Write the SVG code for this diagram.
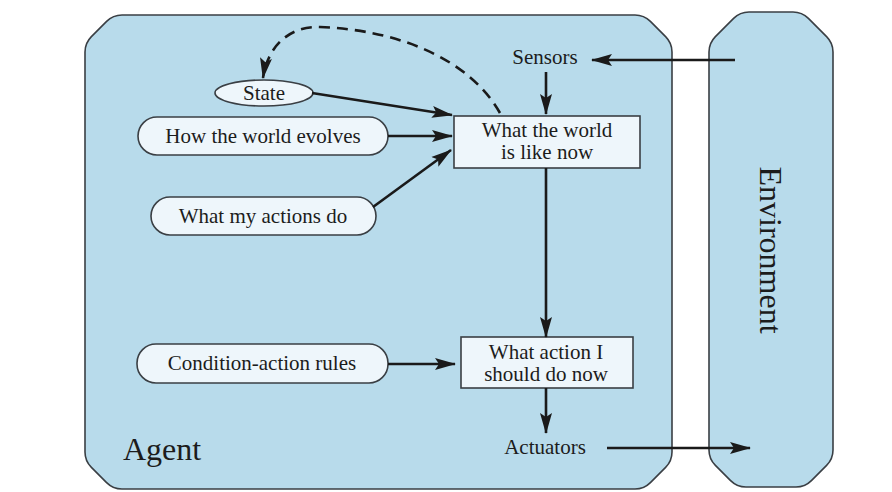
<svg xmlns="http://www.w3.org/2000/svg" width="892" height="492" viewBox="0 0 892 492">
<style>
.frame{fill:#b8dbeb;stroke:#3a3f44;stroke-width:1.6}
.node{fill:#eef6fb;stroke:#3a3f44;stroke-width:1.6}
.t{font-family:"Liberation Serif","Times New Roman",serif;font-size:21px;fill:#1c1c1c;text-anchor:middle}
.c{fill:none;stroke:#1a1a1a;stroke-width:2.6}
.d{fill:none;stroke:#1a1a1a;stroke-width:2.6;stroke-dasharray:11 7}
</style>
<defs>
<marker id="ah" markerUnits="userSpaceOnUse" markerWidth="22" markerHeight="14" refX="20" refY="7" orient="auto">
<path d="M0,1 L21,7 L0,13 L4,7 Z" fill="#1a1a1a"/>
</marker>
</defs>
<rect width="892" height="492" fill="#fff"/>
<g id="agent">
<path class="frame" d="M85,52 Q85,43 91.4,36.6 L106.6,21.4 Q113,15 122,15 H635 Q644,15 650.4,21.4 L665.6,36.6 Q672,43 672,52 V452 Q672,461 665.6,467.4 L650.4,482.6 Q644,489 635,489 H122 Q113,489 106.6,482.6 L91.4,467.4 Q85,461 85,452 Z"/>
<text class="t" x="123" y="460" style="font-size:32px;text-anchor:start">Agent</text>
</g>
<g id="environment">
<path class="frame" d="M709,52 Q709,43 715.4,36.6 L733.6,18.4 Q740,12 749,12 H793 Q802,12 808.4,18.4 L826.6,36.6 Q833,43 833,52 V450 Q833,459 826.6,465.4 L811.4,480.6 Q805,487 796,487 H746 Q737,487 730.6,480.6 L715.4,465.4 Q709,459 709,450 Z"/>
<text class="t" transform="translate(760,250) rotate(90)" style="font-size:32px">Environment</text>
</g>
<g id="sensors"><text class="t" x="545" y="64">Sensors</text></g>
<g id="actuators"><text class="t" x="545" y="454">Actuators</text></g>
<g id="state">
<ellipse class="node" cx="264" cy="93" rx="49" ry="13"/>
<text class="t" x="264" y="100">State</text>
</g>
<g id="evolves">
<rect class="node" x="138" y="117" width="250" height="38" rx="19" ry="19"/>
<text class="t" x="263" y="143">How the world evolves</text>
</g>
<g id="actions">
<rect class="node" x="151" y="197" width="225" height="38" rx="19" ry="19"/>
<text class="t" x="263" y="223">What my actions do</text>
</g>
<g id="rules">
<rect class="node" x="137" y="344" width="251" height="39" rx="19" ry="19"/>
<text class="t" x="262" y="370">Condition-action rules</text>
</g>
<g id="world">
<rect class="node" x="454" y="116" width="186" height="52"/>
<text class="t" x="547" y="137">What the world</text>
<text class="t" x="547" y="159">is like now</text>
</g>
<g id="action">
<rect class="node" x="461" y="337" width="172" height="51"/>
<text class="t" x="546" y="359">What action I</text>
<text class="t" x="546" y="381">should do now</text>
</g>
<g id="connectors">
<line class="c" x1="735" y1="60" x2="592" y2="60" marker-end="url(#ah)"/>
<line class="c" x1="546" y1="72" x2="546" y2="114" marker-end="url(#ah)"/>
<line class="c" x1="546" y1="168" x2="546" y2="337" marker-end="url(#ah)"/>
<line class="c" x1="546" y1="388" x2="546" y2="433" marker-end="url(#ah)"/>
<line class="c" x1="607" y1="448" x2="750" y2="448" marker-end="url(#ah)"/>
<line class="c" x1="388" y1="364" x2="455" y2="364" marker-end="url(#ah)"/>
<line class="c" x1="312" y1="93" x2="452" y2="115" marker-end="url(#ah)"/>
<line class="c" x1="388" y1="136" x2="452" y2="136" marker-end="url(#ah)"/>
<line class="c" x1="373" y1="207" x2="451" y2="150" marker-end="url(#ah)"/>
<path class="d" d="M500,113 C470,60 400,30 320,27 C290,26 268,45 263,78" marker-end="url(#ah)"/>
</g>
</svg>
